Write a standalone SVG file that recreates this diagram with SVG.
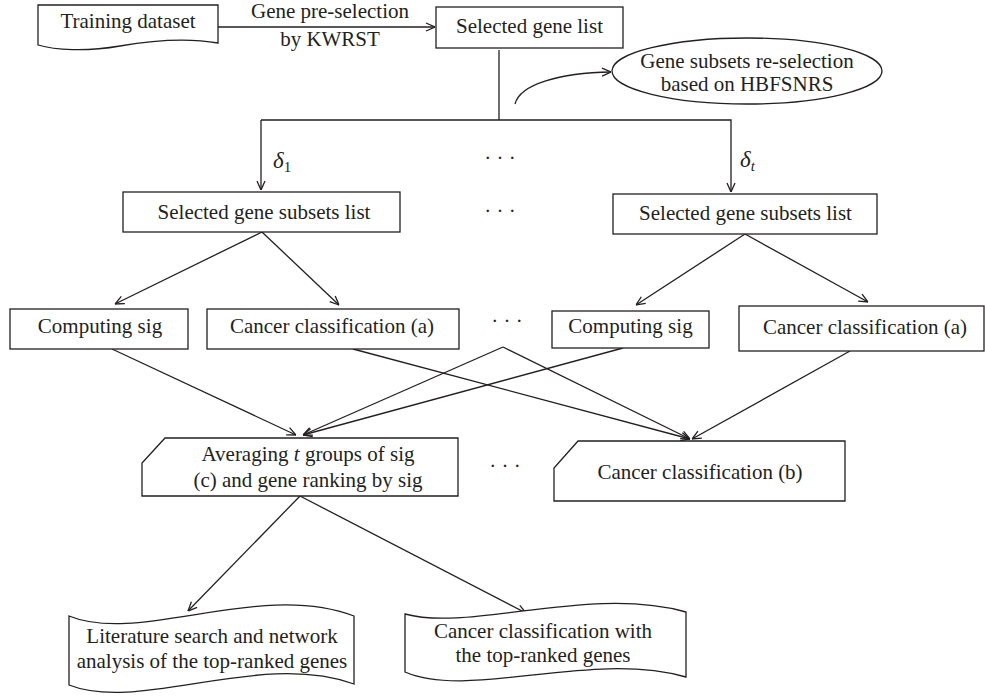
<svg xmlns="http://www.w3.org/2000/svg" width="985" height="696" viewBox="0 0 985 696">
<style>
text{font-family:"Liberation Serif","Times New Roman",serif;font-size:21px;fill:#231f20;text-anchor:middle}
.s{fill:#fff;stroke:#231f20;stroke-width:1.3}
.c{fill:none;stroke:#231f20;stroke-width:1.3}
.i{font-style:italic}
</style>
<defs>
<marker id="arr" viewBox="0 0 10 10" refX="10" refY="5" markerWidth="10" markerHeight="10" markerUnits="userSpaceOnUse" orient="auto">
<path d="M1,1 L10,5 L1,9" fill="none" stroke="#231f20" stroke-width="1.3"/>
</marker>
</defs>
<rect width="985" height="696" fill="#fff"/>
<g id="connectors">
<line class="c" x1="218" y1="27" x2="435" y2="27" marker-end="url(#arr)"/>
<polyline class="c" points="499,50 499,120"/>
<polyline class="c" points="261,120 731,120 731,192" marker-end="url(#arr)"/>
<line class="c" x1="261" y1="120" x2="261" y2="190" marker-end="url(#arr)"/>
<path class="c" d="M515,104 C520,84 560,73 611,72" marker-end="url(#arr)"/>
<line class="c" x1="262" y1="232" x2="115" y2="304" marker-end="url(#arr)"/>
<line class="c" x1="262" y1="232" x2="339" y2="305" marker-end="url(#arr)"/>
<line class="c" x1="745" y1="234" x2="636" y2="305" marker-end="url(#arr)"/>
<line class="c" x1="745" y1="234" x2="868" y2="302" marker-end="url(#arr)"/>
<line class="c" x1="112" y1="349" x2="296" y2="435" marker-end="url(#arr)"/>
<line class="c" x1="623" y1="348" x2="303" y2="435" marker-end="url(#arr)"/>
<line class="c" x1="503" y1="347" x2="303" y2="435" marker-end="url(#arr)"/>
<line class="c" x1="503" y1="347" x2="690" y2="439" marker-end="url(#arr)"/>
<line class="c" x1="353" y1="349" x2="690" y2="439" marker-end="url(#arr)"/>
<line class="c" x1="850" y1="351" x2="692" y2="439" marker-end="url(#arr)"/>
<line class="c" x1="300" y1="496" x2="188" y2="611" marker-end="url(#arr)"/>
<line class="c" x1="300" y1="496" x2="526" y2="613" marker-end="url(#arr)"/>
</g>
<g id="n-training">
<path class="s" d="M38,5 H218 V43 C190,38 160,39 120,46 C85,52 55,50 38,45 Z"/>
<text x="128" y="28">Training dataset</text>
</g>
<g id="l-preselect">
<text x="330" y="18">Gene pre-selection</text>
<text x="330" y="46">by KWRST</text>
</g>
<g id="n-selected">
<rect class="s" x="436" y="7" width="187" height="41"/>
<text x="529.5" y="33">Selected gene list</text>
</g>
<g id="n-reselect">
<ellipse class="s" cx="747" cy="71" rx="135" ry="33"/>
<text x="747" y="68">Gene subsets re-selection</text>
<text x="747" y="91">based on HBFSNRS</text>
</g>
<g id="l-delta">
<text x="273" y="168" style="text-anchor:start"><tspan class="i" font-size="23">δ</tspan><tspan font-size="15" dy="4">1</tspan></text>
<text x="740" y="167" style="text-anchor:start"><tspan class="i" font-size="23">δ</tspan><tspan class="i" font-size="15" dy="4">t</tspan></text>
</g>
<g id="dots">
<text x="500" y="165">· · ·</text>
<text x="500" y="218">· · ·</text>
<text x="507" y="328">· · ·</text>
<text x="505" y="473">· · ·</text>
</g>
<g id="n-subsets1">
<rect class="s" x="123" y="192" width="277" height="40"/>
<text x="264" y="219">Selected gene subsets list</text>
</g>
<g id="n-subsets2">
<rect class="s" x="613" y="194" width="264" height="40"/>
<text x="745.5" y="220">Selected gene subsets list</text>
</g>
<g id="n-sig1">
<rect class="s" x="10" y="309" width="178" height="40"/>
<text x="100" y="333">Computing sig</text>
</g>
<g id="n-cls1">
<rect class="s" x="207" y="309" width="252" height="40"/>
<text x="332" y="333">Cancer classification (a)</text>
</g>
<g id="n-sig2">
<rect class="s" x="552" y="311" width="157" height="37"/>
<text x="630.5" y="333">Computing sig</text>
</g>
<g id="n-cls2">
<rect class="s" x="739" y="306" width="245" height="45"/>
<text x="865" y="334">Cancer classification (a)</text>
</g>
<g id="n-avg">
<path class="s" d="M165,438 H458 V496 H142 V463 Z"/>
<text x="308" y="461">Averaging <tspan class="i">t</tspan> groups of sig</text>
<text x="308" y="487">(c) and gene ranking by sig</text>
</g>
<g id="n-clsb">
<path class="s" d="M578,441 H845 V501 H554 V468 Z"/>
<text x="700" y="479">Cancer classification (b)</text>
</g>
<g id="n-lit">
<path class="s" d="M69,616 C140,645 260,580 354,616 V684 C260,650 140,713 69,685 Z"/>
<text x="212" y="643">Literature search and network</text>
<text x="212" y="668">analysis of the top-ranked genes</text>
</g>
<g id="n-clstop">
<path class="s" d="M405,614 C470,632 590,585 686,612 V677 C590,650 470,700 405,672 Z"/>
<text x="543" y="638">Cancer classification with</text>
<text x="543" y="662">the top-ranked genes</text>
</g>
</svg>
